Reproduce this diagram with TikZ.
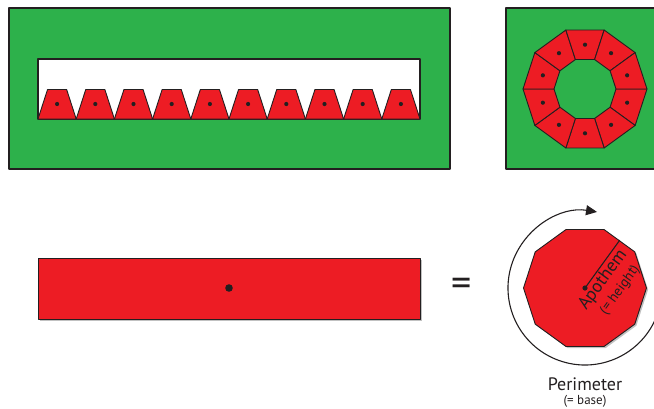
\documentclass[tikz,border=0pt]{standalone}
\usepackage{fontspec}
\setmainfont{PT Sans}
\usetikzlibrary{arrows.meta,shadows}
\definecolor{grass}{RGB}{45,177,75}
\definecolor{tile}{RGB}{237,28,36}
\definecolor{ink}{RGB}{35,31,32}
\begin{document}
\begin{tikzpicture}[x=1pt,y=-1pt,line join=round,
  panel/.style={fill=grass,draw=ink,line width=1.1pt},
  piece/.style={fill=tile,draw=ink,line width=0.9pt},
  hole/.style={fill=white,draw=ink,line width=1.1pt},
  pip/.style={fill=ink,draw=none},
  softshadow/.style={drop shadow={opacity=0.35,shadow xshift=1.6pt,shadow yshift=-1.6pt,fill=black!70}},
  label/.style={text=ink,inner sep=0pt}]
\useasboundingbox (0,0) rectangle (654,408);

% strip of ten pieces laid side by side
\draw[panel] (9,8) rectangle (450,169);
\draw[hole] (38,59) rectangle (420,119);
\foreach \i in {0,...,9}{
  \pgfmathsetmacro\xa{38+38.2*\i}
  \draw[piece] (\xa,119) -- (\xa+9.55,89.5) -- (\xa+28.65,89.5) -- (\xa+38.2,119) -- cycle;
  \fill[pip] (\xa+19.1,104) circle (2.1);
}

% the same pieces arranged as a ring
\draw[panel] (506,8) rectangle (660,169);
\begin{scope}[shift={(585,89)}]
  \foreach \k in {0,...,9}{
    \pgfmathsetmacro\aa{36*\k}
    \pgfmathsetmacro\ab{36*\k+36}
    \pgfmathsetmacro\am{36*\k+18}
    \draw[piece] (\aa:62) -- (\ab:62) -- (\ab:31) -- (\aa:31) -- cycle;
    \fill[pip] (\am:44.3) circle (2.1);
  }
\end{scope}

% rectangle of equal area
\draw[piece,softshadow] (38,258) rectangle (420,319);
\fill[pip] (229,288) circle (3.8);
\node[label,font=\fontsize{40}{42}\selectfont] (eq) at (462,287) {=};

% regular decagon with its apothem
\begin{scope}[shift={(585,288)}]
  \draw[piece,softshadow] (0:61.5) \foreach \k in {1,...,9}{ -- (36*\k:61.5)} -- cycle;
  \coordinate (o) at (0,0);
  \coordinate (m) at (-54:59.2);
  \draw[ink,line width=1.1pt] (o) -- (m);
  \fill[pip] (o) circle (2.6);
  \draw[ink,line width=1.1pt,-{Triangle[length=11pt,width=10pt]}]
    (20:77) arc[start angle=20,end angle=279,radius=77];
\end{scope}
\node[label,rotate=54,font=\fontsize{18}{20}\selectfont] (apo) at (603,280) {Apothem};
\node[label,rotate=54,font=\fontsize{14}{16}\selectfont] (apoh) at (620,290) {(= height)};
\node[label,font=\fontsize{18}{20}\selectfont] (per) at (585,384) {Perimeter};
\node[label,font=\fontsize{13}{15}\selectfont] (perb) at (585,401) {(= base)};
\end{tikzpicture}
\end{document}
